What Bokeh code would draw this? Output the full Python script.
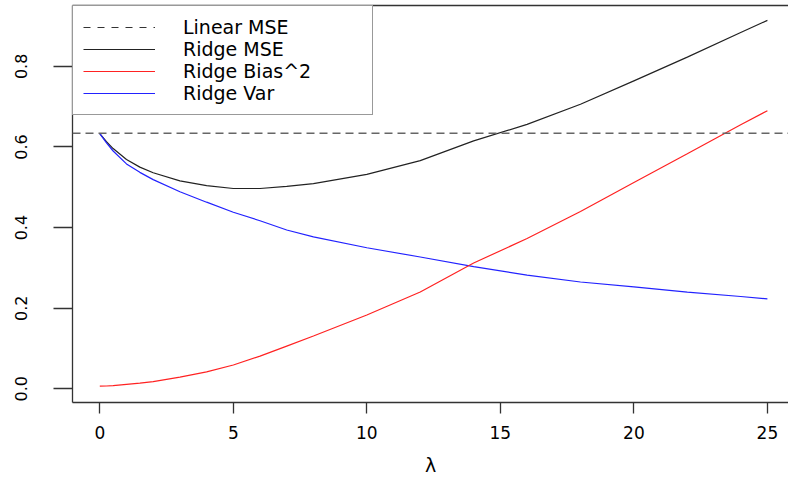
from bokeh.plotting import figure
from bokeh.models import Range1d, FixedTicker, LinearAxis, Span, Legend, LegendItem
from bokeh.embed import file_html
from bokeh.resources import INLINE

# ---- data ----
lam = [0, 0.25, 0.5, 1, 1.5, 2, 3, 4, 5, 6, 7, 8, 10, 12, 14, 16, 18, 20, 22, 24, 25]
ridge_mse = [0.633, 0.613, 0.596, 0.569, 0.550, 0.536, 0.516, 0.504, 0.497, 0.497, 0.502,
             0.509, 0.532, 0.566, 0.615, 0.656, 0.706, 0.764, 0.823, 0.884, 0.914]
ridge_bias2 = [0.0065, 0.007, 0.008, 0.011, 0.014, 0.018, 0.029, 0.042, 0.059, 0.081, 0.106,
               0.131, 0.183, 0.240, 0.312, 0.373, 0.440, 0.512, 0.583, 0.655, 0.690]
ridge_var = [0.633, 0.610, 0.590, 0.558, 0.537, 0.519, 0.489, 0.463, 0.438, 0.417, 0.394,
             0.377, 0.350, 0.327, 0.303, 0.282, 0.265, 0.253, 0.240, 0.229, 0.223]
linear_mse = 0.634

x_ticks = [0, 5, 10, 15, 20, 25]
y_ticks = [0.0, 0.2, 0.4, 0.6, 0.8]
y_tick_labels = ["0.0", "0.2", "0.4", "0.6", "0.8"]
legend_labels = ["Linear MSE", "Ridge MSE", "Ridge Bias^2", "Ridge Var"]

FONT = "DejaVu Sans"
FRAME = "#333333"

p = figure(width=788, height=484, output_backend="svg", toolbar_location=None,
           x_range=Range1d(-1.022, 25.79), y_range=Range1d(-0.034, 0.951),
           min_border_left=72, min_border_right=0, min_border_top=5, min_border_bottom=82)
p.outline_line_color = None
p.grid.visible = False
p.background_fill_color = "white"
p.border_fill_color = "white"

# x axis
xa = p.xaxis[0]
xa.ticker = FixedTicker(ticks=x_ticks)
xa.minor_tick_line_color = None
xa.major_tick_in = 0
xa.major_tick_out = 11
xa.major_tick_line_color = FRAME
xa.major_tick_line_width = 1.3
xa.axis_line_color = FRAME
xa.axis_line_width = 1.3
xa.major_label_text_font = FONT
xa.major_label_text_font_size = "17px"
xa.major_label_text_color = "black"
xa.major_label_standoff = 12
xa.axis_label = "λ"
xa.axis_label_text_font = FONT
xa.axis_label_text_font_style = "normal"
xa.axis_label_text_font_size = "19px"
xa.axis_label_text_color = "black"
xa.axis_label_standoff = 12

# y axis
ya = p.yaxis[0]
ya.ticker = FixedTicker(ticks=y_ticks)
ya.major_label_overrides = dict(zip(y_ticks, y_tick_labels))
ya.minor_tick_line_color = None
ya.major_tick_in = 0
ya.major_tick_out = 19
ya.major_tick_line_color = FRAME
ya.major_tick_line_width = 1.3
ya.axis_line_color = FRAME
ya.axis_line_width = 1.3
ya.major_label_orientation = "vertical"
ya.major_label_text_font = FONT
ya.major_label_text_font_size = "16px"
ya.major_label_text_color = "black"
ya.major_label_standoff = 26

# top frame line (right side is cut off in the reference)
top = LinearAxis(ticker=FixedTicker(ticks=[]), axis_line_color=FRAME, axis_line_width=1.3,
                 major_tick_line_color=None, minor_tick_line_color=None,
                 major_label_text_font_size="0px", major_label_standoff=0)
p.add_layout(top, "above")

# data lines
p.add_layout(Span(location=linear_mse, dimension="width", line_color="#666666",
                  line_width=1.5, line_dash="8 5"))
r_lin = p.line(x=[lam[0]], y=[linear_mse], line_color="#333333", line_width=1.2,
               line_dash="7 7")
r_mse = p.line(lam, ridge_mse, line_color="#222222", line_width=1.2)
r_var = p.line(lam, ridge_var, line_color="#2222FF", line_width=1.2)
r_bias = p.line(lam, ridge_bias2, line_color="#FF2222", line_width=1.2)

legend = Legend(items=[LegendItem(label=legend_labels[0], renderers=[r_lin]),
                       LegendItem(label=legend_labels[1], renderers=[r_mse]),
                       LegendItem(label=legend_labels[2], renderers=[r_bias]),
                       LegendItem(label=legend_labels[3], renderers=[r_var])],
                location="top_left", margin=0, padding=10, spacing=0,
                glyph_width=72, glyph_height=20, label_height=20, label_width=179,
                label_standoff=28, label_text_font=FONT, label_text_font_size="19px",
                label_text_color="black", border_line_color=FRAME, border_line_width=1.3,
                background_fill_color="white", background_fill_alpha=1.0)
p.add_layout(legend)

open("out.html", "w").write(file_html(p, INLINE))
